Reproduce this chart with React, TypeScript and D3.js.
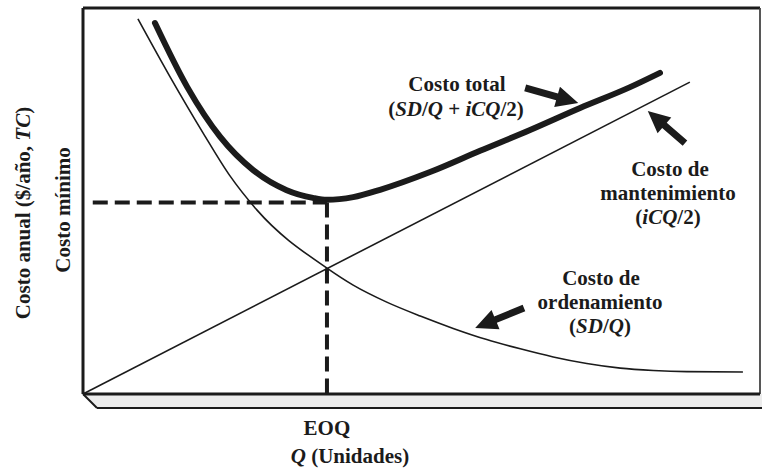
import React from "react";
import * as d3 from "d3";

// Data (Q units, annual cost units)
const orderingQ = [9.0, 14.3, 19.7, 24.1, 28.5, 40, 44.3, 49.8, 55.3, 60.7, 66.2, 71.7, 77.1, 82.6, 88.1, 93.5, 99.0, 108.2];
const orderingC = [97.2, 82.1, 67.6, 56.5, 47.7, 32.6, 28.2, 23.8, 20.2, 17.0, 14.1, 11.7, 9.6, 7.9, 6.7, 6.1, 5.8, 5.7];
const totalQ = [11.8, 17.1, 22.5, 27.9, 33.4, 37.7, 40, 44.3, 48.7, 56.9, 65.1, 73.3, 81.5, 89.7, 94.6];
const totalC = [96.1, 79.5, 66.6, 58.0, 52.8, 50.8, 50.3, 51.0, 52.9, 57.5, 63.0, 68.4, 74.1, 79.5, 83.2];
const holdingQ = [0, 99.5];
const holdingC = [0, 80.8];
const EOQ = 40;
const minCost = 49.6;
const dashStartQ = 1.6;

// arrows: [tailQ, tailC, tipQ, tipC]
const arrowTotal = [72.5, 79.3, 81.2, 75.4];
const arrowHolding = [98.7, 65.0, 92.6, 73.3];
const arrowOrdering = [72.3, 22.3, 64.3, 17.1];

const W = 762;
const H = 471;
const L = 83, T = 8, R = 760, B = 394;

const x = d3.scaleLinear().domain([0, 111]).range([L, R]);
const y = d3.scaleLinear().domain([0, 100]).range([B, T]);

const FONT = "'Liberation Serif', 'Times New Roman', serif";

function arrowPath(a: number[], shaftW = 7, headW = 21, headL = 22) {
  const x1 = x(a[0]), y1 = y(a[1]), x2 = x(a[2]), y2 = y(a[3]);
  const dx = x2 - x1, dy = y2 - y1;
  const len = Math.hypot(dx, dy);
  const ux = dx / len, uy = dy / len;
  const nx = -uy, ny = ux;
  const bx = x2 - ux * headL, by = y2 - uy * headL;
  const s = shaftW / 2, h = headW / 2;
  const pts = [
    [x1 + nx * s, y1 + ny * s],
    [bx + nx * s, by + ny * s],
    [bx + nx * h, by + ny * h],
    [x2, y2],
    [bx - nx * h, by - ny * h],
    [bx - nx * s, by - ny * s],
    [x1 - nx * s, y1 - ny * s],
  ];
  return "M" + pts.map((p) => p.join(",")).join("L") + "Z";
}

export default function App() {
  const line = d3
    .line<[number, number]>()
    .x((d) => x(d[0]))
    .y((d) => y(d[1]))
    .curve(d3.curveMonotoneX);
  const ordering = orderingQ.map((q, i) => [q, orderingC[i]] as [number, number]);
  const total = totalQ.map((q, i) => [q, totalC[i]] as [number, number]);
  const holding = holdingQ.map((q, i) => [q, holdingC[i]] as [number, number]);
  const ink = "#1b1b1b";
  const fs = 21;
  return (
    <svg
      width={W}
      height={H}
      style={{ position: "absolute", left: 0, top: 0, background: "#fff" }}
      fontFamily={FONT}
    >
      {/* 3D base */}
      <polygon points={`${L},${B} ${L + 14},${B + 14} ${W},${B + 14} ${W},${B}`} fill="#ececec" />
      <line x1={L + 14} y1={B + 14} x2={W} y2={B + 14} stroke={ink} strokeWidth={2.2} />
      <line x1={L} y1={B} x2={L + 14} y2={B + 14} stroke={ink} strokeWidth={2} />
      {/* frame */}
      <line x1={L} y1={T} x2={R} y2={T} stroke={ink} strokeWidth={3} />
      <line x1={L} y1={T} x2={L} y2={B} stroke={ink} strokeWidth={3} />
      <line x1={R} y1={T} x2={R} y2={B} stroke="#444" strokeWidth={1.8} />
      <line x1={L} y1={B} x2={R} y2={B} stroke={ink} strokeWidth={3} />

      {/* curves */}
      <path d={line(holding) || ""} fill="none" stroke={ink} strokeWidth={1.6} />
      <path d={line(ordering) || ""} fill="none" stroke={ink} strokeWidth={1.6} />
      <path d={line(total) || ""} fill="none" stroke={ink} strokeWidth={6} strokeLinecap="round" />

      {/* EOQ dashed guides */}
      <line x1={x(dashStartQ)} y1={y(minCost)} x2={x(EOQ)} y2={y(minCost)} stroke={ink} strokeWidth={4} strokeDasharray="15 7" />
      <line x1={x(EOQ)} y1={y(minCost)} x2={x(EOQ)} y2={y(0)} stroke={ink} strokeWidth={4} strokeDasharray="15 7" />

      {/* arrows */}
      <path d={arrowPath(arrowTotal)} fill={ink} />
      <path d={arrowPath(arrowHolding)} fill={ink} />
      <path d={arrowPath(arrowOrdering)} fill={ink} />

      {/* labels */}
      <g fontWeight="bold" fontSize={fs} fill={ink} textAnchor="middle">
        <text x={457} y={91}>Costo total</text>
        <text x={456} y={116}>
          (<tspan fontStyle="italic">SD</tspan>/<tspan fontStyle="italic">Q</tspan> + <tspan fontStyle="italic">iCQ</tspan>/2)
        </text>

        <text x={670} y={176}>Costo de</text>
        <text x={668} y={200}>mantenimiento</text>
        <text x={668} y={224}>
          (<tspan fontStyle="italic">iCQ</tspan>/2)
        </text>

        <text x={601} y={285}>Costo de</text>
        <text x={600} y={309}>ordenamiento</text>
        <text x={600} y={333}>
          (<tspan fontStyle="italic">SD</tspan>/<tspan fontStyle="italic">Q</tspan>)
        </text>

        <text x={x(EOQ)} y={435}>EOQ</text>
        <text x={350} y={463}>
          <tspan fontStyle="italic">Q</tspan> (Unidades)
        </text>

        <text transform={`translate(30,${213}) rotate(-90)`}>
          Costo anual ($/año, <tspan fontStyle="italic">TC</tspan>)
        </text>
        <text transform={`translate(70,${210}) rotate(-90)`}>Costo mínimo</text>
      </g>
    </svg>
  );
}
